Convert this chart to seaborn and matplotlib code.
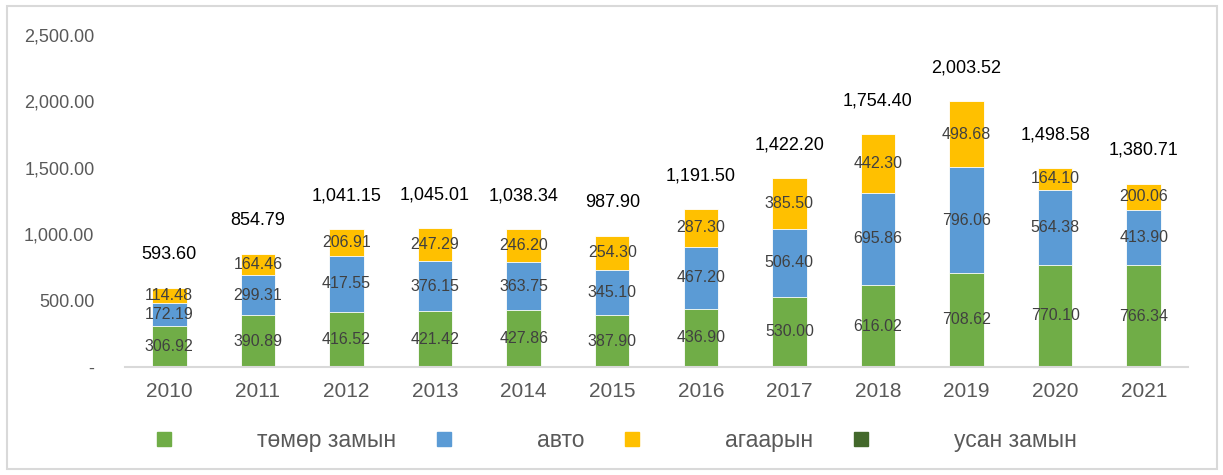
import pandas as pd
import matplotlib.pyplot as plt
import seaborn as sns
from matplotlib.lines import Line2D
from matplotlib.patches import Rectangle

# DATA
years = ['2010', '2011', '2012', '2013', '2014', '2015',
         '2016', '2017', '2018', '2019', '2020', '2021']
rail = [306.92, 390.89, 416.52, 421.42, 427.86, 387.90,
        436.90, 530.00, 616.02, 708.62, 770.10, 766.34]
road = [172.19, 299.31, 417.55, 376.15, 363.75, 345.10,
        467.20, 506.40, 695.86, 796.06, 564.38, 413.90]
air = [114.48, 164.46, 206.91, 247.29, 246.20, 254.30,
       287.30, 385.50, 442.30, 498.68, 164.10, 200.06]
water = [0.0] * 12
totals = [593.60, 854.79, 1041.15, 1045.01, 1038.34, 987.90,
          1191.50, 1422.20, 1754.40, 2003.52, 1498.58, 1380.71]
series_names = ['төмөр замын', 'авто', 'агаарын', 'усан замын']
colors = ['#70AD47', '#5B9BD5', '#FFC000', '#43682B']

df = pd.DataFrame({'year': years, 'rail': rail, 'road': road, 'air': air, 'water': water})
df['c1'] = df['rail']
df['c2'] = df['c1'] + df['road']
df['c3'] = df['c2'] + df['air']

sns.set_style('white')
plt.rcParams['font.family'] = ['Liberation Sans', 'DejaVu Sans']

fig = plt.figure(figsize=(12.23, 4.75), dpi=100)
ax = fig.add_axes([125 / 1223, 1 - 367 / 475, 1063 / 1223, 332 / 475])

# stacked bars: draw cumulative heights from the top down
for col, c in [('c3', colors[2]), ('c2', colors[1]), ('c1', colors[0])]:
    sns.barplot(data=df, x='year', y=col, color=c, width=0.39,
                edgecolor='white', linewidth=0.6, saturation=1, ax=ax)

# segment labels
for i in range(len(years)):
    bottoms = [0, df['c1'][i], df['c2'][i]]
    for val, b in zip([rail[i], road[i], air[i]], bottoms):
        ax.text(i, b + val / 2, f'{val:,.2f}', ha='center', va='center',
                fontsize=11.5, color='#404040')
    ax.text(i, totals[i] + 250, f'{totals[i]:,.2f}', ha='center', va='center',
            fontsize=13, color='black')

ax.set_ylim(0, 2500)
ax.set_yticks([0, 500, 1000, 1500, 2000, 2500])
ax.set_yticklabels(['-', '500.00', '1,000.00', '1,500.00', '2,000.00', '2,500.00'])
ax.set_xlabel('')
ax.set_ylabel('')
ax.tick_params(axis='y', length=0, pad=22, labelsize=13, labelcolor='#595959')
ax.tick_params(axis='x', length=0, pad=11, labelsize=15, labelcolor='#595959')
for s in ['top', 'right', 'left']:
    ax.spines[s].set_visible(False)
ax.spines['bottom'].set_color('#D9D9D9')
ax.spines['bottom'].set_linewidth(1.5)

handles = [Line2D([], [], marker='s', linestyle='none', markersize=9.4,
                  markerfacecolor=c, markeredgecolor=c) for c in colors]
fig.legend(handles, series_names, loc='center', bbox_to_anchor=(617 / 1223, 0.0716),
           ncol=4, frameon=False, fontsize=16.5, labelcolor='#595959',
           handlelength=0.6, handletextpad=3.75, columnspacing=1.8)

fig.patches.append(Rectangle((7 / 1223, 6 / 475), 1210 / 1223, 463 / 475,
                             transform=fig.transFigure, fill=False,
                             edgecolor='#D9D9D9', linewidth=1.5))

fig.savefig('out.png', dpi=100)
